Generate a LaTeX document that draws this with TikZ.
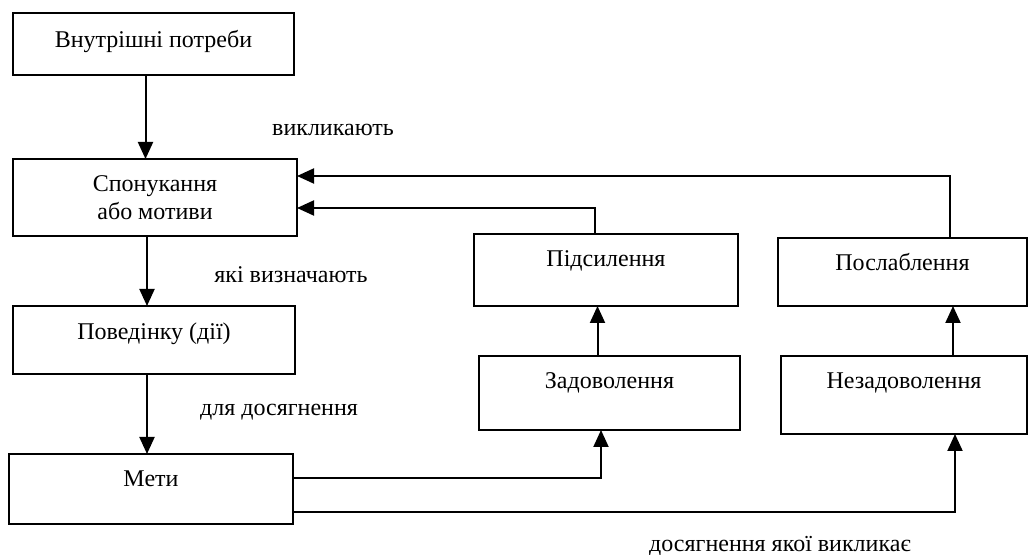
\documentclass[tikz,border=0pt]{standalone}
\usepackage{fontspec}
\setmainfont{Liberation Serif}
\usetikzlibrary{arrows.meta}

\tikzset{
  blok/.style={draw, line width=1pt, inner sep=0pt, outer sep=0pt, anchor=north west,
    font=\fontsize{12}{14}\selectfont},
  pidpys/.style={inner sep=0pt, font=\fontsize{12}{14}\selectfont},
  strilka/.style={line width=1pt, -{Triangle[length=8.5pt,width=7.5pt]}}
}

\begin{document}
\begin{tikzpicture}[x=0.5pt,y=-0.5pt]
\useasboundingbox (0,0) rectangle (1029,555);
\node[blok, minimum width=140.5pt, text height=17.5pt, text depth=13.5pt] (potreby) at (13,13) {Внутрішні потреби};
\node[blok, minimum width=142pt, minimum height=38.5pt, align=center] (motyvy) at (13,159) {Спонукання\\або мотиви};
\node[blok, minimum width=141pt, text height=17pt, text depth=17pt] (povedinka) at (13,306) {Поведінку (дії)};
\node[blok, minimum width=142pt, text height=16.5pt, text depth=18.5pt] (meta) at (9,454) {Мети};
\node[blok, minimum width=132pt, text height=16.5pt, text depth=19.5pt] (pidsyl) at (474,234) {Підсилення};
\node[blok, minimum width=130.5pt, text height=16.5pt, text depth=20.5pt] (zadov) at (479,356) {Задоволення};
\node[blok, minimum width=124.5pt, text height=16.5pt, text depth=17.5pt] (poslab) at (778,238) {Послаблення};
\node[blok, minimum width=123pt, text height=16.5pt, text depth=22.5pt] (nezadov) at (781,356) {Незадоволення};

\node[pidpys] (vyklyk) at (333,130) {викликають};
\node[pidpys] (vyznach) at (291,275) {які визначають};
\node[pidpys] (dosyagn) at (279,412) {для досягнення};
\node[pidpys] (yakoi) at (780,546) {досягнення якої викликає};

\draw[strilka] ([xshift=-4pt]potreby.south) -- ([xshift=-4pt]potreby.south |- motyvy.north);
\draw[strilka] ([xshift=-4pt]motyvy.south) -- ([xshift=-4pt]motyvy.south |- povedinka.north);
\draw[strilka] ([xshift=-3.5pt]povedinka.south) -- ([xshift=-3.5pt]povedinka.south |- meta.north);
\draw[strilka] ([xshift=-6pt]zadov.north) -- ([xshift=-6pt]zadov.north |- pidsyl.south);
\draw[strilka] ([xshift=24.5pt]nezadov.north) -- ([xshift=24.5pt]nezadov.north |- poslab.south);
\draw[strilka] ([xshift=-5.5pt]pidsyl.north) |- ([yshift=-5.25pt]motyvy.east);
\draw[strilka] ([xshift=23.75pt]poslab.north) |- ([yshift=10.75pt]motyvy.east);
\draw[strilka] ([yshift=5.5pt]meta.east) -| ([xshift=-4.25pt]zadov.south);
\draw[strilka] ([yshift=-11.5pt]meta.east) -| ([xshift=25.5pt]nezadov.south);
\end{tikzpicture}
\end{document}
